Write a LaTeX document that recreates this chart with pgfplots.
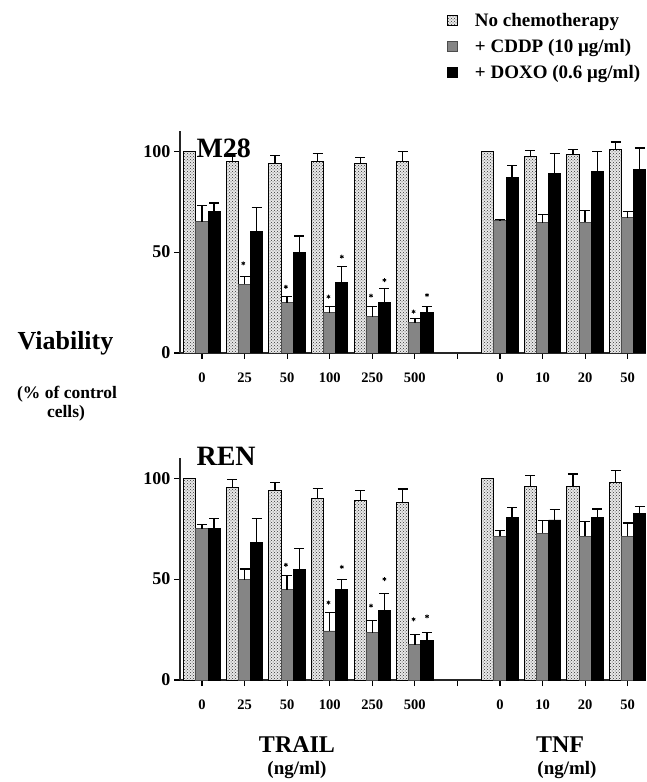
\documentclass[border=0pt]{standalone}
\usepackage{fontspec}
\setmainfont{Liberation Serif}
\usepackage{pgfplots}
\usepackage{pgfplotstable}
\pgfplotsset{compat=1.18}
\usetikzlibrary{patterns}

% M28 panel: x = category index, nc/cd/dx = bar heights, *e = upper error
\pgfplotstableread{
x  nc    nce  cd    cde  dx    dxe
0  100   0    65    8    70.3  4
1  95    4    34    4    60    12
2  94    4    25    3    50    8
3  95    4    20    3    35    8
4  94    3    18    5    25    7
5  95    5    15    2    20    3
7  100   0    65.5  0.5  87    6
8  97.5  3    64.5  4    89    10
9  98.5  2.5  64.7  6    90    10
10 101   3.5  67    3    91    10.5
}\mtop

% REN panel
\pgfplotstableread{
x  nc    nce  cd    cde  dx    dxe
0  100   0    75    2    75    5
1  95.2  4    49.7  5.3  68    12
2  94    4    44.7  7    54.8  10.2
3  90    5    24.3  9.3  44.7  5
4  89    5    23.5  6    34.6  8.1
5  88    6.7  17.4  5.3  19.4  4.1
7  100   0    71.2  3    80.3  5
8  95.7  5.8  72.8  6.2  79.3  5.1
9  95.7  6.3  71.2  7.3  80.3  4.5
10 97.8  6    71.2  6.6  82.3  3.7
}\mbot

\pgfplotsset{
  panel/.style={
    scale only axis, width=466pt, height=222pt, anchor=south west,
    xmin=-0.517, xmax=10.43, ymin=0, ymax=110,
    axis x line*=bottom, axis y line*=left,
    axis line style={line width=1.6pt, black!85, -},
    xtick={0,...,10}, xticklabels={0,25,50,100,250,500,,0,10,20,50},
    ytick={0,50,100}, yticklabels={0,50,100},
    tick align=outside, major tick length=6pt,
    tick style={line width=1.1pt, black},
    xticklabel style={font=\fontsize{14.5}{16}\selectfont\bfseries, yshift=-10pt},
    yticklabel style={font=\fontsize{18}{20}\selectfont\bfseries},
  },
  errs/.style={error bars/y dir=plus, error bars/y explicit,
    error bars/error mark options={rotate=90, mark size=5pt, line width=1.3pt, black},
    error bars/error bar style={line width=1.3pt, black}},
  nochemo/.style={ybar, bar width=0.285, bar shift=0, draw=black, line width=0.9pt,
    fill=gray!18, postaction={pattern=crosshatch dots, pattern color=black!80}, errs},
  cddp/.style={ybar, bar width=0.285, bar shift=0, draw=black!70, line width=0.9pt,
    fill=black!48, errs},
  doxo/.style={ybar, bar width=0.285, bar shift=0, draw=black, line width=0.9pt,
    fill=black, errs},
  stars/.style={only marks, mark=asterisk, mark size=2pt,
    mark options={line width=0.8pt, black}, forget plot},
  sq/.style={legend image code/.code={\draw[##1, line width=0.8pt] (0pt,-5pt) rectangle (10pt,5pt);}},
}

\begin{document}
\begin{tikzpicture}
\useasboundingbox (0,0) rectangle (646pt,782pt);

\begin{axis}[panel, at={(180pt,429pt)},
  legend style={at={(0.5665,1.548)}, anchor=north west, draw=none, fill=none,
    font=\fontsize{19}{21}\selectfont\bfseries, row sep=7pt,
    /tikz/every odd column/.append style={column sep=15pt}},
  legend cell align=left]
  \addplot[nochemo, sq] table[x expr=\thisrow{x}-0.285, y=nc, y error=nce] {\mtop};
  \addlegendentry{No chemotherapy}
  \addplot[cddp, sq] table[x=x, y=cd, y error=cde] {\mtop};
  \addlegendentry{+ CDDP (10 μg/ml)}
  \addplot[doxo, sq] table[x expr=\thisrow{x}+0.285, y=dx, y error=dxe] {\mtop};
  \addlegendentry{+ DOXO (0.6 μg/ml)}
  \addplot[stars] coordinates {(0.97,44.4) (1.97,32.8) (2.97,27.9) (3.97,28.4) (4.97,20.5)
    (3.285,47.7) (4.285,36.1) (5.285,28.7)};
\end{axis}

\begin{axis}[panel, at={(180pt,102pt)}]
  \addplot[nochemo] table[x expr=\thisrow{x}-0.285, y=nc, y error=nce] {\mbot};
  \addplot[cddp] table[x=x, y=cd, y error=cde] {\mbot};
  \addplot[doxo] table[x expr=\thisrow{x}+0.285, y=dx, y error=dxe] {\mbot};
  \addplot[stars] coordinates {(1.97,57.1) (2.97,38.4) (3.97,36.8) (4.97,30.1)
    (3.285,56) (4.285,50) (5.285,31.5)};
\end{axis}

\node[anchor=base west, font=\fontsize{28}{30}\selectfont\bfseries] at (193pt,624pt) {M28};
\node[anchor=base west, font=\fontsize{28}{30}\selectfont\bfseries] at (193pt,316pt) {REN};
\node[anchor=base west, font=\fontsize{26}{28}\selectfont\bfseries] at (14pt,432pt) {Viability};
\node[anchor=base, font=\fontsize{17.5}{19}\selectfont\bfseries] at (67pt,383pt) {(\% of control};
\node[anchor=base, font=\fontsize{17.5}{19}\selectfont\bfseries] at (66pt,364pt) {cells)};
\node[anchor=base, font=\fontsize{24}{26}\selectfont\bfseries] at (297pt,29pt) {TRAIL};
\node[anchor=base, font=\fontsize{19}{21}\selectfont\bfseries] at (297pt,7pt) {(ng/ml)};
\node[anchor=base, font=\fontsize{24}{26}\selectfont\bfseries] at (560pt,29pt) {TNF};
\node[anchor=base, font=\fontsize{19}{21}\selectfont\bfseries] at (567pt,7pt) {(ng/ml)};
\end{tikzpicture}
\end{document}
